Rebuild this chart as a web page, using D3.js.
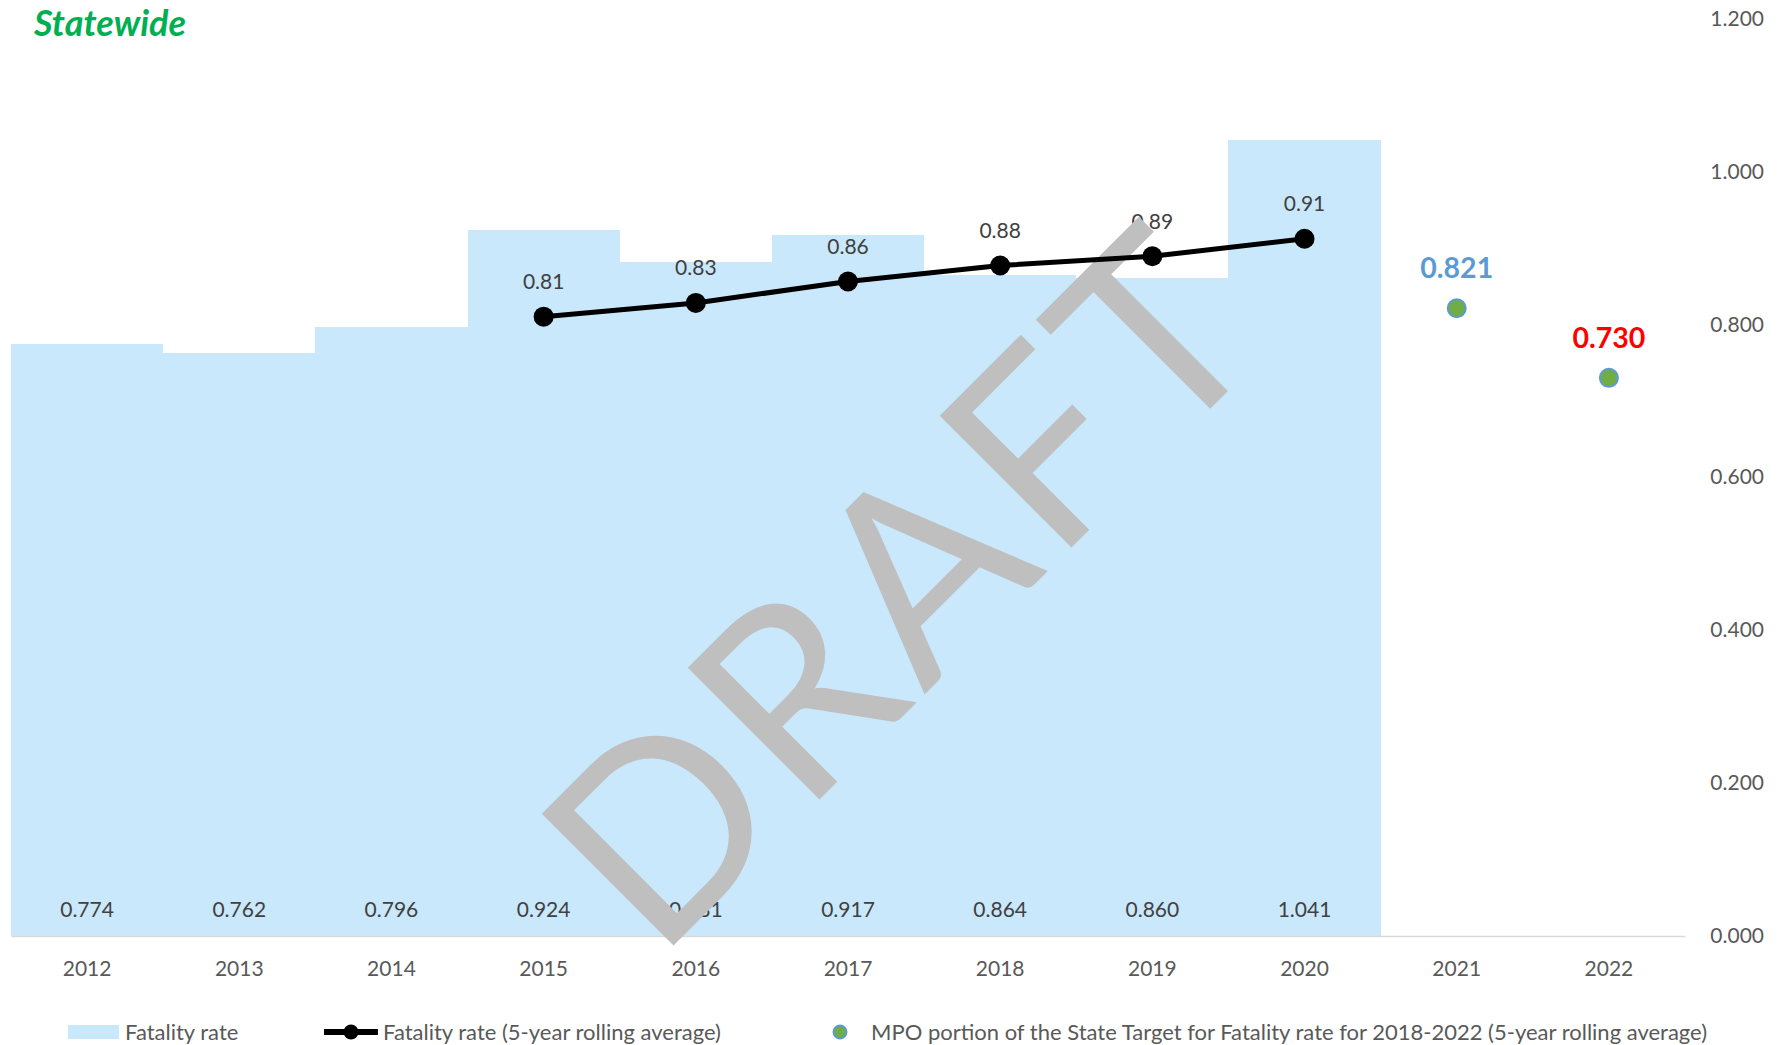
<!DOCTYPE html>
<html>
<head>
<meta charset="utf-8">
<script src="https://cdn.jsdelivr.net/npm/d3@7"></script>
<style>
  html, body { margin: 0; padding: 0; background: #fff; }
  svg { display: block; font-family: Lato, "Open Sans", sans-serif; }
</style>
</head>
<body>
<svg id="chart" width="1781" height="1045"></svg>
<script>
// ---- data ----
const years = ['2012', '2013', '2014', '2015', '2016', '2017', '2018', '2019', '2020', '2021', '2022'];
const rateYears = ['2012', '2013', '2014', '2015', '2016', '2017', '2018', '2019', '2020'];
const fatalityRate = [0.774, 0.762, 0.796, 0.924, 0.881, 0.917, 0.864, 0.860, 1.041];
const rollingYears = ['2015', '2016', '2017', '2018', '2019', '2020'];
const rollingAvg = [0.810, 0.828, 0.856, 0.877, 0.889, 0.912];
const targetYears = ['2021', '2022'];
const targetValues = [0.821, 0.730];
const targetLabelColors = ['#5B9BD5', '#FF0000'];
const yTicks = [0, 0.2, 0.4, 0.6, 0.8, 1.0, 1.2];
const legendLabels = [
  'Fatality rate',
  'Fatality rate (5-year rolling average)',
  'MPO portion of the State Target for Fatality rate for 2018-2022 (5-year rolling average)'
];

const svg = d3.select('#chart');
const W = 1781, H = 1045;

const x = d3.scaleBand().domain(years).range([11, 1685]).padding(0);
const y = d3.scaleLinear().domain([0, 1.2]).range([936, 18.5]);

const barColor = '#CAE8FC';
const textColor = '#404040';
const axisText = '#595959';

svg.append('rect').attr('width', W).attr('height', H).attr('fill', '#fff');

// title
svg.append('text')
  .attr('x', 34).attr('y', 36)
  .attr('fill', '#00B050')
  .attr('font-size', 36).attr('font-weight', 700).attr('font-style', 'italic')
  .text('Statewide');

// bars
const rateData = rateYears.map((yr, i) => ({ year: yr, value: fatalityRate[i] }));
svg.append('g').selectAll('rect').data(rateData).join('rect')
  .attr('x', d => x(d.year))
  .attr('y', d => y(d.value))
  .attr('width', x.bandwidth())
  .attr('height', d => y(0) - y(d.value))
  .attr('fill', barColor)
  .attr('shape-rendering', 'crispEdges');

// bar value labels (inside base)
svg.append('g').selectAll('text').data(rateData).join('text')
  .attr('x', d => x(d.year) + x.bandwidth() / 2)
  .attr('y', 910)
  .attr('dy', '0.35em')
  .attr('text-anchor', 'middle')
  .attr('font-size', 21)
  .attr('fill', textColor)
  .text(d => d3.format('.3f')(d.value));

// x axis
const xAxis = svg.append('g')
  .attr('transform', `translate(0,${y(0)})`)
  .call(d3.axisBottom(x).tickSize(0).tickSizeOuter(0).tickPadding(25));
xAxis.select('.domain').attr('stroke', '#D9D9D9').attr('stroke-width', 1.5);
xAxis.selectAll('text').attr('font-size', 21).attr('fill', axisText).attr('font-family', 'Lato, sans-serif');

// y axis on the right
const yAxis = svg.append('g')
  .attr('transform', 'translate(1764,0)')
  .call(d3.axisLeft(y).tickValues(yTicks).tickFormat(d3.format('.3f')).tickSize(0).tickPadding(0));
yAxis.select('.domain').remove();
yAxis.selectAll('text').attr('font-size', 21).attr('fill', axisText).attr('font-family', 'Lato, sans-serif');

// rolling average labels
const rollData = rollingYears.map((yr, i) => ({ year: yr, value: rollingAvg[i] }));
const cx = d => x(d.year) + x.bandwidth() / 2;
svg.append('g').selectAll('text').data(rollData).join('text')
  .attr('x', cx)
  .attr('y', d => y(d.value) - 35)
  .attr('dy', '0.35em')
  .attr('text-anchor', 'middle')
  .attr('font-size', 21)
  .attr('fill', textColor)
  .text(d => d3.format('.2f')(d.value));

// DRAFT watermark
svg.append('text')
  .attr('transform', 'translate(965,654) rotate(-45)')
  .attr('text-anchor', 'middle')
  .attr('font-size', 260)
  .attr('fill', '#BFBFBF')
  .attr('textLength', 872)
  .attr('lengthAdjust', 'spacing')
  .text('DRAFT');

// rolling average line
const line = d3.line().x(cx).y(d => y(d.value));
svg.append('path').datum(rollData)
  .attr('d', line)
  .attr('fill', 'none')
  .attr('stroke', '#000')
  .attr('stroke-width', 5)
  .attr('stroke-linejoin', 'round');
svg.append('g').selectAll('circle').data(rollData).join('circle')
  .attr('cx', cx).attr('cy', d => y(d.value)).attr('r', 10).attr('fill', '#000');

// target points
const targetData = targetYears.map((yr, i) => ({ year: yr, value: targetValues[i], color: targetLabelColors[i] }));
svg.append('g').selectAll('circle').data(targetData).join('circle')
  .attr('cx', cx).attr('cy', d => y(d.value)).attr('r', 9)
  .attr('fill', '#70AD47').attr('stroke', '#5B9BD5').attr('stroke-width', 2);
svg.append('g').selectAll('text').data(targetData).join('text')
  .attr('x', cx).attr('y', d => y(d.value) - 40)
  .attr('dy', '0.35em')
  .attr('text-anchor', 'middle')
  .attr('font-size', 28.5).attr('font-weight', 700)
  .attr('fill', d => d.color)
  .text(d => d3.format('.3f')(d.value));

// legend
const lg = svg.append('g').attr('transform', 'translate(0,1032)');
lg.append('rect').attr('x', 68).attr('y', -7).attr('width', 51).attr('height', 14).attr('fill', barColor);
lg.append('text').attr('x', 125).attr('dy', '0.35em').attr('font-size', 22).attr('fill', axisText).text(legendLabels[0]);
lg.append('line').attr('x1', 324).attr('x2', 378).attr('stroke', '#000').attr('stroke-width', 6);
lg.append('circle').attr('cx', 351).attr('r', 7.5).attr('fill', '#000');
lg.append('text').attr('x', 383).attr('dy', '0.35em').attr('font-size', 22).attr('fill', axisText).text(legendLabels[1]);
lg.append('circle').attr('cx', 840).attr('r', 6.5).attr('fill', '#70AD47').attr('stroke', '#5B9BD5').attr('stroke-width', 2);
lg.append('text').attr('x', 871).attr('dy', '0.35em').attr('font-size', 22).attr('fill', axisText).text(legendLabels[2]);
</script>
</body>
</html>
